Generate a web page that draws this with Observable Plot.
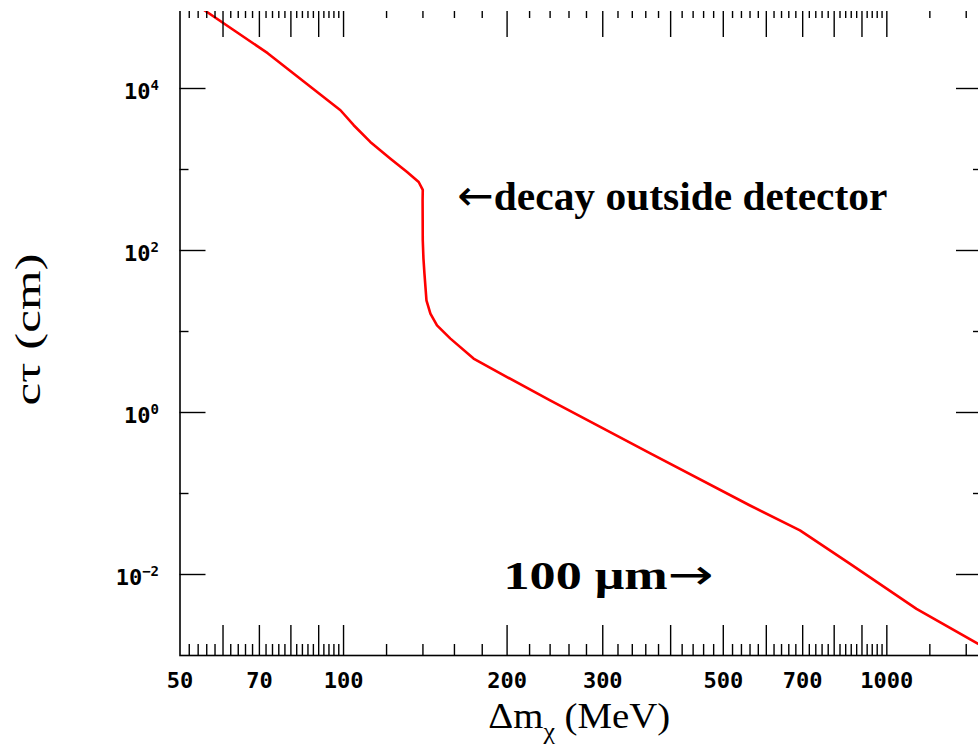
<!DOCTYPE html>
<html><head><meta charset="utf-8">
<script src="https://cdn.jsdelivr.net/npm/d3@7"></script>
<script src="https://cdn.jsdelivr.net/npm/@observablehq/plot@0.6"></script>
<style>
html,body{margin:0;padding:0;background:#fff;overflow:hidden;}
#wrap{position:relative;width:978px;height:750px;overflow:hidden;}
#mask{position:absolute;left:0;top:0;width:100%;height:11px;background:#fff;}
</style></head><body>
<div id="wrap"><div id="chart"></div><div id="mask"></div></div>
<script>
// ---- data ----
const massMeV = [54.5, 72.5, 98.7, 104.4, 112.0, 122.0, 130.9, 137.5, 139.9, 139.8, 139.9, 140.3, 140.9, 142.1, 144.5, 148.6, 157.3, 173.5, 194.3, 240, 367, 560, 692, 856, 1134, 1470, 1500];
const ctauCm  = [1.0e5, 2.73e4, 5390, 3520, 2190, 1360, 933, 701, 560, 417, 134, 80, 51.9, 24.3, 16.6, 11.9, 8.17, 4.63, 3.04, 1.41, 0.313, 0.0711, 0.035, 0.01355, 0.00377, 0.001406, 0.00129];

const xMajorTicks = [60, 70, 80, 90, 100, 200, 300, 400, 500, 600, 700, 800, 900, 1000];
const xMinorTicks = [52, 54, 56, 58, 62, 64, 66, 68, 72, 74, 76, 78, 82, 84, 86, 88, 92, 94, 96, 98,
  120, 140, 160, 180, 220, 240, 260, 280, 320, 340, 360, 380, 420, 440, 460, 480,
  520, 540, 560, 580, 620, 640, 660, 680, 720, 740, 760, 780, 820, 840, 860, 880,
  920, 940, 960, 980, 1200, 1400];
const xTickLabels = [50, 70, 100, 200, 300, 500, 700, 1000];

const yMajorTicks = [1e-2, 1, 1e2, 1e4];
const yMinorTicks = [1e-1, 10, 1e3];
const yTickExponents = [-2, 0, 2, 4];

const xTitle = "Δm_χ (MeV)";
const yTitle = "cτ (cm)";
const annotations = [
  {label: "←decay outside detector", m: 162, ct: 320},
  {label: "100 μm→", m: 197, ct: 0.0067}
];

// ---- styling ----
const annotationLength = {"←decay outside detector": 430, "100 μm→": 210};
const W = 985, H = 750, mL = 179.5, mR = 3, mT = 7, mB = 95;
const fw = W - mL - mR, fh = H - mT - mB;

const curve = massMeV.map((m, i) => ({m, ct: ctauCm[i]}));
const sup = d => (d < 0 ? "−" + Math.abs(d) : String(d));

const tickStyle = {stroke: "#000", strokeWidth: 1.4};
const plot = Plot.plot({
  width: W, height: H,
  marginLeft: mL, marginRight: mR, marginTop: mT, marginBottom: mB,
  style: {background: "transparent", overflow: "visible", maxWidth: "none"},
  x: {type: "log", domain: [50, 1500], axis: null},
  y: {type: "log", domain: [1e-3, 1e5], axis: null},
  marks: [
    Plot.line(curve, {x: "m", y: "ct", stroke: "#ff0000", strokeWidth: 2.6, clip: true}),
    Plot.tickX(xMajorTicks, {x: d => d, insetTop: fh - 30, ...tickStyle}),
    Plot.tickX(xMinorTicks, {x: d => d, insetTop: fh - 11, ...tickStyle}),
    Plot.tickX(xMajorTicks, {x: d => d, insetBottom: fh - 30, ...tickStyle}),
    Plot.tickX(xMinorTicks, {x: d => d, insetBottom: fh - 11, ...tickStyle}),
    Plot.tickY(yMajorTicks, {y: d => d, insetRight: fw - 26, ...tickStyle}),
    Plot.tickY(yMinorTicks, {y: d => d, insetRight: fw - 9, ...tickStyle}),
    Plot.tickY(yMajorTicks, {y: d => d, insetLeft: fw - 26, ...tickStyle}),
    Plot.tickY(yMinorTicks, {y: d => d, insetLeft: fw - 9, ...tickStyle}),
    Plot.frame({stroke: "#000", strokeWidth: 1.6}),
    Plot.text(xTickLabels, {x: d => d, text: d => String(d), frameAnchor: "bottom", dy: 25,
      lineAnchor: "middle", fontFamily: "DejaVu Sans Mono", fontWeight: "bold", fontSize: 22, fill: "#000"}),
    Plot.text(yTickExponents, {y: d => 10 ** d, text: d => "10^" + sup(d), frameAnchor: "left", dx: -21, dy: 3,
      textAnchor: "end", lineAnchor: "middle", fontFamily: "DejaVu Sans Mono", fontWeight: "bold", fontSize: 22, fill: "#000"}),
    Plot.text([xTitle], {text: d => d, frameAnchor: "bottom", dy: 72, dx: -2, lineAnchor: "bottom",
      fontFamily: "Liberation Serif", fontSize: 36, fill: "#000"}),
    Plot.text([yTitle], {text: d => d, frameAnchor: "left", dx: -152, dy: 74, rotate: -90, textAnchor: "start",
      fontFamily: "Liberation Serif", fontSize: 36, fill: "#000"}),
    Plot.text(annotations, {x: "m", y: "ct", text: "label", textAnchor: "start", lineAnchor: "bottom",
      fontFamily: "Liberation Serif", fontWeight: "bold", fontSize: 40, fill: "#000"})
  ]
});

// rich text post-processing (superscripts, subscripts, arrows, lengths)
const arrowTspan = (sel, ch) => sel.append("tspan").attr("font-family", "DejaVu Sans").attr("font-weight", "normal")
  .attr("font-size", 42).text(ch);
d3.select(plot).selectAll("text").each(function() {
  const t = this.textContent;
  const sel = d3.select(this);
  if (/^10\^/.test(t)) {
    const exp = t.slice(3);
    sel.text(null);
    sel.append("tspan").text("10");
    sel.append("tspan").attr("dy", -9).attr("font-size", 14).text(exp);
  } else if (t === xTitle) {
    sel.text(null);
    sel.append("tspan").text("Δm");
    sel.append("tspan").attr("dy", 11).attr("font-size", 24).text("χ");
    sel.append("tspan").attr("dy", -11).text(" (MeV)");
    sel.attr("textLength", 182).attr("lengthAdjust", "spacingAndGlyphs");
  } else if (t === yTitle) {
    sel.attr("textLength", 152).attr("lengthAdjust", "spacingAndGlyphs");
  } else if (annotationLength[t]) {
    sel.text(null);
    const parts = t.split(/([←→])/).filter(s => s.length);
    parts.forEach(p => {
      if (p === "←" || p === "→") arrowTspan(sel, p);
      else sel.append("tspan").text(p);
    });
    sel.attr("textLength", annotationLength[t]).attr("lengthAdjust", "spacingAndGlyphs");
  }
});

document.getElementById("chart").appendChild(plot);
</script>
</body></html>
